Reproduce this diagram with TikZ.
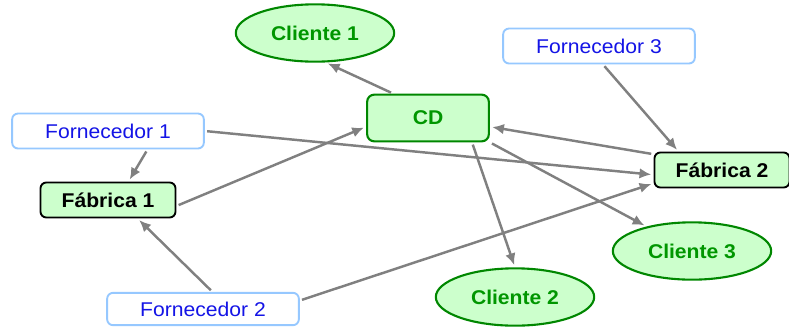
\documentclass[tikz,border=0pt]{standalone}
\usepackage{fontspec}
\setmainfont{Liberation Sans}[FakeStretch=1.06]
\usetikzlibrary{arrows.meta,shapes.geometric}
\definecolor{verdeclaro}{RGB}{204,255,204}
\definecolor{verdeescuro}{RGB}{0,135,0}
\definecolor{verdetexto}{RGB}{0,150,0}
\definecolor{azulborda}{RGB}{150,200,255}
\definecolor{azultexto}{RGB}{20,20,230}
\definecolor{cinza}{RGB}{128,128,128}
\tikzset{
  fornecedor/.style={draw=azulborda, line width=1.6pt, rounded corners=5pt, fill=white,
    text=azultexto, font=\fontsize{17}{19}\selectfont, minimum width=5.75cm, minimum height=1.05cm, inner sep=0pt},
  fabrica/.style={draw=black, line width=1.6pt, rounded corners=5pt, fill=verdeclaro,
    font=\fontsize{17}{19}\selectfont\bfseries, minimum width=4.05cm, minimum height=1.05cm, inner sep=0pt},
  deposito/.style={draw=verdeescuro, line width=1.8pt, rounded corners=6pt, fill=verdeclaro,
    text=verdetexto, font=\fontsize{17}{19}\selectfont\bfseries, minimum width=3.65cm, minimum height=1.4cm, inner sep=0pt},
  cliente/.style={ellipse, draw=verdeescuro, line width=1.8pt, fill=verdeclaro,
    text=verdetexto, font=\fontsize{17}{19}\selectfont\bfseries, minimum width=4.75cm, minimum height=1.72cm, inner sep=0pt},
  fluxo/.style={draw=cinza, line width=2.1pt, -{Latex[length=10pt,width=9pt]}, shorten <=2pt, shorten >=2pt}
}
\begin{document}
\begin{tikzpicture}[x=0.03cm, y=-0.03cm]
			%%%%% START %%%%%
			\useasboundingbox (0, 0) rectangle (789, 329);
			
			\node[cliente] (cli1) at (315, 33) {Cliente 1};
			\node[deposito] (cd) at (428, 118) {CD};
			\node[fornecedor] (forn3) at (599, 46) {Fornecedor 3};
			\node[fornecedor] (forn1) at (108, 131) {Fornecedor 1};
			\node[fabrica] (fab1) at (108, 200) {Fábrica 1};
			\node[fabrica] (fab2) at (722, 170) {Fábrica 2};
			\node[cliente] (cli3) at (692, 251) {Cliente 3};
			\node[cliente] (cli2) at (515, 297) {Cliente 2};
			\node[fornecedor, minimum height=0.97cm] (forn2) at (203, 309) {Fornecedor 2};
			
			% fluxos
			\draw[fluxo] (cd.145) -- (cli1.-70);
			\draw[fluxo] (forn1.-25) -- (fab1.42);
			\draw[fluxo] (fab1.-5) -- (cd.188);
			\draw[fluxo] (forn1.east) -- (fab2.184);
			\draw[fluxo] (forn2.61) -- (fab1.-32);
			\draw[fluxo] (forn2.5) -- (fab2.191);
			\draw[fluxo] (forn3.-78) -- (fab2.157);
			\draw[fluxo] (fab2.167) -- (cd.-8);
			\draw[fluxo] (cd.south east) -- (cli3);
			\draw[fluxo] (cd.-29) -- (cli2.north);
			
			%%%%% END %%%%%
		\end{tikzpicture}
\end{document}
